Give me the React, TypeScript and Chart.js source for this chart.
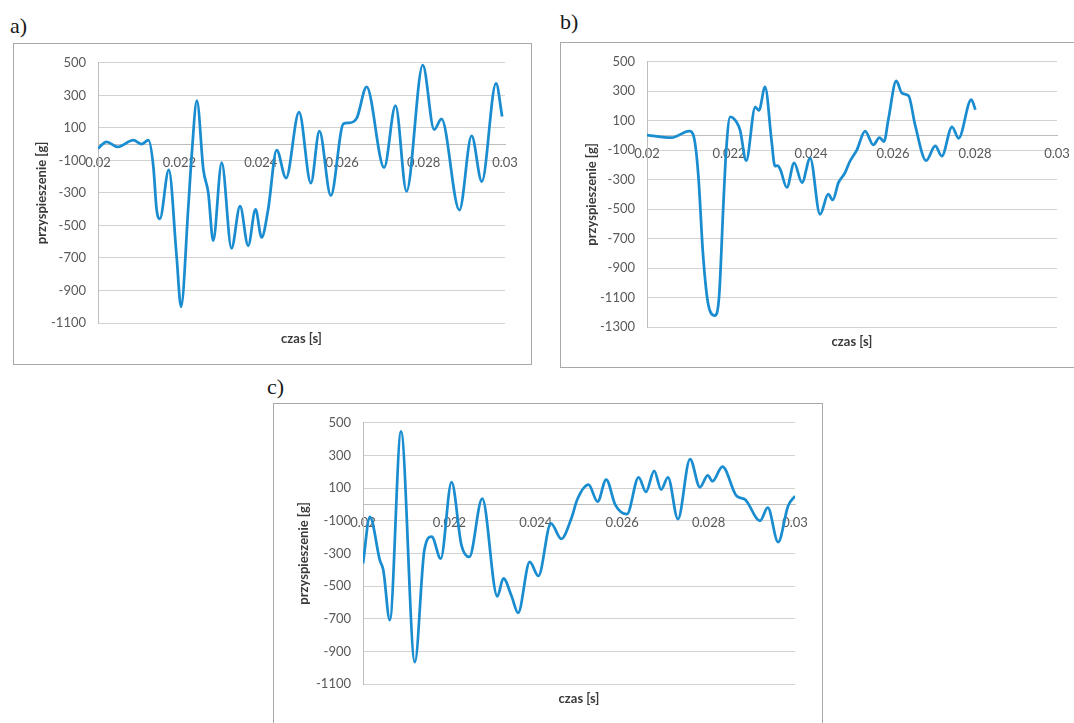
import React, { useEffect, useRef } from "react";
import { Chart, registerables } from "chart.js";

Chart.register(...registerables);

// ---------- data ----------
const timesA = [0.02, 0.02021, 0.02048, 0.02087, 0.02107, 0.02124, 0.02136, 0.02144, 0.02152, 0.02174, 0.02193, 0.02204, 0.02222, 0.0223, 0.02243, 0.02259, 0.02271, 0.02283, 0.02304, 0.02328, 0.02349, 0.02369, 0.02387, 0.02402, 0.02418, 0.02439, 0.02462, 0.02494, 0.02523, 0.02544, 0.02572, 0.02603, 0.02617, 0.02636, 0.0266, 0.02703, 0.02731, 0.02758, 0.02798, 0.02826, 0.02844, 0.02888, 0.02918, 0.02943, 0.02978, 0.02993];
const accelA = [-27, 14, -17, 24, 0, 24, -138, -402, -459, -159, -686, -1000, -382, -77, 267, -159, -300, -594, -114, -641, -382, -625, -402, -574, -402, -37, -209, 196, -240, 80, -317, 125, 131, 161, 352, -144, 237, -290, 486, 89, 155, -406, 50, -230, 374, 170];

const timesB = [0.02, 0.0206, 0.02103, 0.02115, 0.02125, 0.02137, 0.0215, 0.02166, 0.02176, 0.02186, 0.02193, 0.02203, 0.02219, 0.02227, 0.02242, 0.02264, 0.02273, 0.02288, 0.02304, 0.02312, 0.02318, 0.02325, 0.02341, 0.02359, 0.02378, 0.02398, 0.02422, 0.02442, 0.02453, 0.02467, 0.02483, 0.02495, 0.02512, 0.02532, 0.02552, 0.02567, 0.02578, 0.02589, 0.02608, 0.02622, 0.02638, 0.02654, 0.02681, 0.02703, 0.02719, 0.02744, 0.0276, 0.02791, 0.02801];
const accelB = [3, -15, 30, -19, -264, -821, -1155, -1222, -1088, -487, -108, 126, 88, 36, -171, 193, 170, 330, -41, -208, -205, -230, -353, -186, -320, -153, -536, -398, -438, -320, -253, -175, -97, 30, -64, -15, -41, 114, 370, 286, 270, 70, -171, -71, -141, 59, -19, 243, 175];

const timesC = [0.02, 0.02016, 0.02039, 0.02047, 0.02062, 0.02088, 0.0212, 0.02142, 0.02159, 0.0218, 0.02205, 0.02228, 0.02246, 0.02276, 0.02311, 0.02325, 0.02344, 0.02359, 0.02386, 0.02406, 0.02435, 0.02459, 0.02483, 0.02496, 0.02522, 0.02543, 0.02563, 0.02584, 0.02611, 0.02638, 0.02655, 0.02674, 0.0269, 0.02706, 0.02729, 0.02757, 0.0278, 0.02798, 0.02809, 0.02832, 0.02865, 0.02884, 0.02919, 0.02937, 0.02961, 0.02984, 0.03];
const accelC = [-362, -76, -342, -402, -708, 447, -966, -281, -197, -332, 136, -251, -322, 35, -563, -453, -563, -664, -352, -438, -116, -211, -80, 30, 121, 17, 152, -3, -60, 166, 77, 206, 91, 166, -90, 278, 105, 178, 142, 232, 51, 31, -100, -20, -231, -9, 51];

const xTicks = [0.02, 0.022, 0.024, 0.026, 0.028, 0.03];
const yTicksAC = [500, 300, 100, -100, -300, -500, -700, -900, -1100];
const yTicksB = [500, 300, 100, -100, -300, -500, -700, -900, -1100, -1300];

const xTitle = "czas [s]";
const yTitle = "przyspieszenie [g]";

const LINE = "#1a8cd0";
const GRID = "#d2d2d2";
const AXIS = "#bdbdbd";
const TICK = "#595959";
const TITLE = "#3a3a3a";
const FONT = "Lato, 'Open Sans', sans-serif";

type PanelProps = {
  times: number[];
  values: number[];
  yTicks: number[];
  left: number;
  top: number;
  width: number;
  height: number;
  padTop: number;
  padRight: number;
  yWidth: number;
  x2Height: number;
  yTitleX: number;
  xTitleOffset: number;
};

function Panel(p: PanelProps) {
  const ref = useRef<HTMLCanvasElement | null>(null);
  useEffect(() => {
    if (!ref.current) return;
    const pts = p.times.map((t, i) => ({ x: t, y: p.values[i] }));
    const yMin = Math.min(...p.yTicks);
    const yMax = Math.max(...p.yTicks);
    const chart = new Chart(ref.current, {
      type: "line",
      data: {
        datasets: [
          {
            data: pts,
            xAxisID: "x",
            yAxisID: "y",
            borderColor: LINE,
            borderWidth: 2.75,
            pointRadius: 0,
            fill: false,
            cubicInterpolationMode: "monotone",
          },
        ],
      },
      options: {
        responsive: false,
        animation: false,
        devicePixelRatio: 1,
        layout: { padding: { left: 0, top: p.padTop, right: p.padRight, bottom: 0 } },
        plugins: { legend: { display: false }, tooltip: { enabled: false } },
        scales: {
          x: {
            type: "linear",
            position: { y: 0 },
            min: xTicks[0],
            max: xTicks[xTicks.length - 1],
            afterBuildTicks: (s: any) => {
              s.ticks = xTicks.map((v) => ({ value: v }));
            },
            grid: { display: false, drawTicks: false },
            border: { display: true, color: AXIS, width: 1 },
            ticks: {
              color: TICK,
              font: { family: FONT, size: 13 },
              padding: 11,
              maxRotation: 0,
              autoSkip: false,
              callback: (v: any) => String(Number(Number(v).toFixed(3))),
            },
          },
          x2: {
            type: "linear",
            axis: "x",
            position: "bottom",
            min: xTicks[0],
            max: xTicks[xTicks.length - 1],
            ticks: { display: false },
            grid: { display: false, drawTicks: false },
            border: { display: false },
            afterFit: (s: any) => {
              s.height = p.x2Height;
            },
            title: {
              display: true,
              text: xTitle,
              color: TITLE,
              font: { family: FONT, size: 13, weight: "bold" },
              padding: { top: 0, bottom: p.xTitleOffset - 7.8 },
            },
          },
          y: {
            type: "linear",
            min: yMin,
            max: yMax,
            afterBuildTicks: (s: any) => {
              s.ticks = p.yTicks.map((v) => ({ value: v }));
            },
            afterFit: (s: any) => {
              s.width = p.yWidth;
            },
            grid: { color: GRID, lineWidth: 1, drawTicks: false },
            border: { display: true, color: AXIS, width: 1 },
            ticks: {
              color: TICK,
              font: { family: FONT, size: 13 },
              padding: 12,
              callback: (v: any) => String(Math.round(Number(v))),
            },
            title: {
              display: true,
              text: yTitle,
              color: TITLE,
              font: { family: FONT, size: 13, weight: "bold" },
              padding: { top: p.yTitleX - 7.8, bottom: 0 },
            },
          },
        },
      } as any,
    });
    return () => chart.destroy();
  }, []);
  return (
    <>
      <canvas
        ref={ref}
        width={p.width}
        height={p.height}
        style={{ position: "absolute", left: p.left, top: p.top, width: p.width, height: p.height }}
      />
      <div
        style={{
          position: "absolute",
          left: p.left,
          top: p.top,
          width: p.width,
          height: p.height,
          boxSizing: "border-box",
          border: "1px solid #a8a8a8",
          pointerEvents: "none",
        }}
      />
    </>
  );
}

const letterStyle: React.CSSProperties = {
  position: "absolute",
  fontFamily: "'Liberation Serif', 'Times New Roman', serif",
  fontSize: 22,
  lineHeight: "22px",
  color: "#1a1a1a",
};

export default function App() {
  return (
    <div
      style={{
        position: "absolute",
        left: 0,
        top: 0,
        width: 1074,
        height: 723,
        overflow: "hidden",
        background: "#ffffff",
      }}
    >
      <div style={{ ...letterStyle, left: 10, top: 15 }}>a)</div>
      <div style={{ ...letterStyle, left: 560, top: 11 }}>b)</div>
      <div style={{ ...letterStyle, left: 267, top: 376 }}>c)</div>
      <Panel
        times={timesA}
        values={accelA}
        yTicks={yTicksAC}
        left={13}
        top={43}
        width={519}
        height={322}
        padTop={17}
        padRight={27}
        yWidth={85}
        x2Height={42}
        yTitleX={29}
        xTitleOffset={26}
      />
      <Panel
        times={timesB}
        values={accelB}
        yTicks={yTicksB}
        left={560}
        top={42}
        width={530}
        height={326}
        padTop={15}
        padRight={33}
        yWidth={87}
        x2Height={41}
        yTitleX={31.5}
        xTitleOffset={26}
      />
      <Panel
        times={timesC}
        values={accelC}
        yTicks={yTicksAC}
        left={273}
        top={403}
        width={550}
        height={323}
        padTop={16}
        padRight={28}
        yWidth={90}
        x2Height={42}
        yTitleX={30.5}
        xTitleOffset={27}
      />
    </div>
  );
}
